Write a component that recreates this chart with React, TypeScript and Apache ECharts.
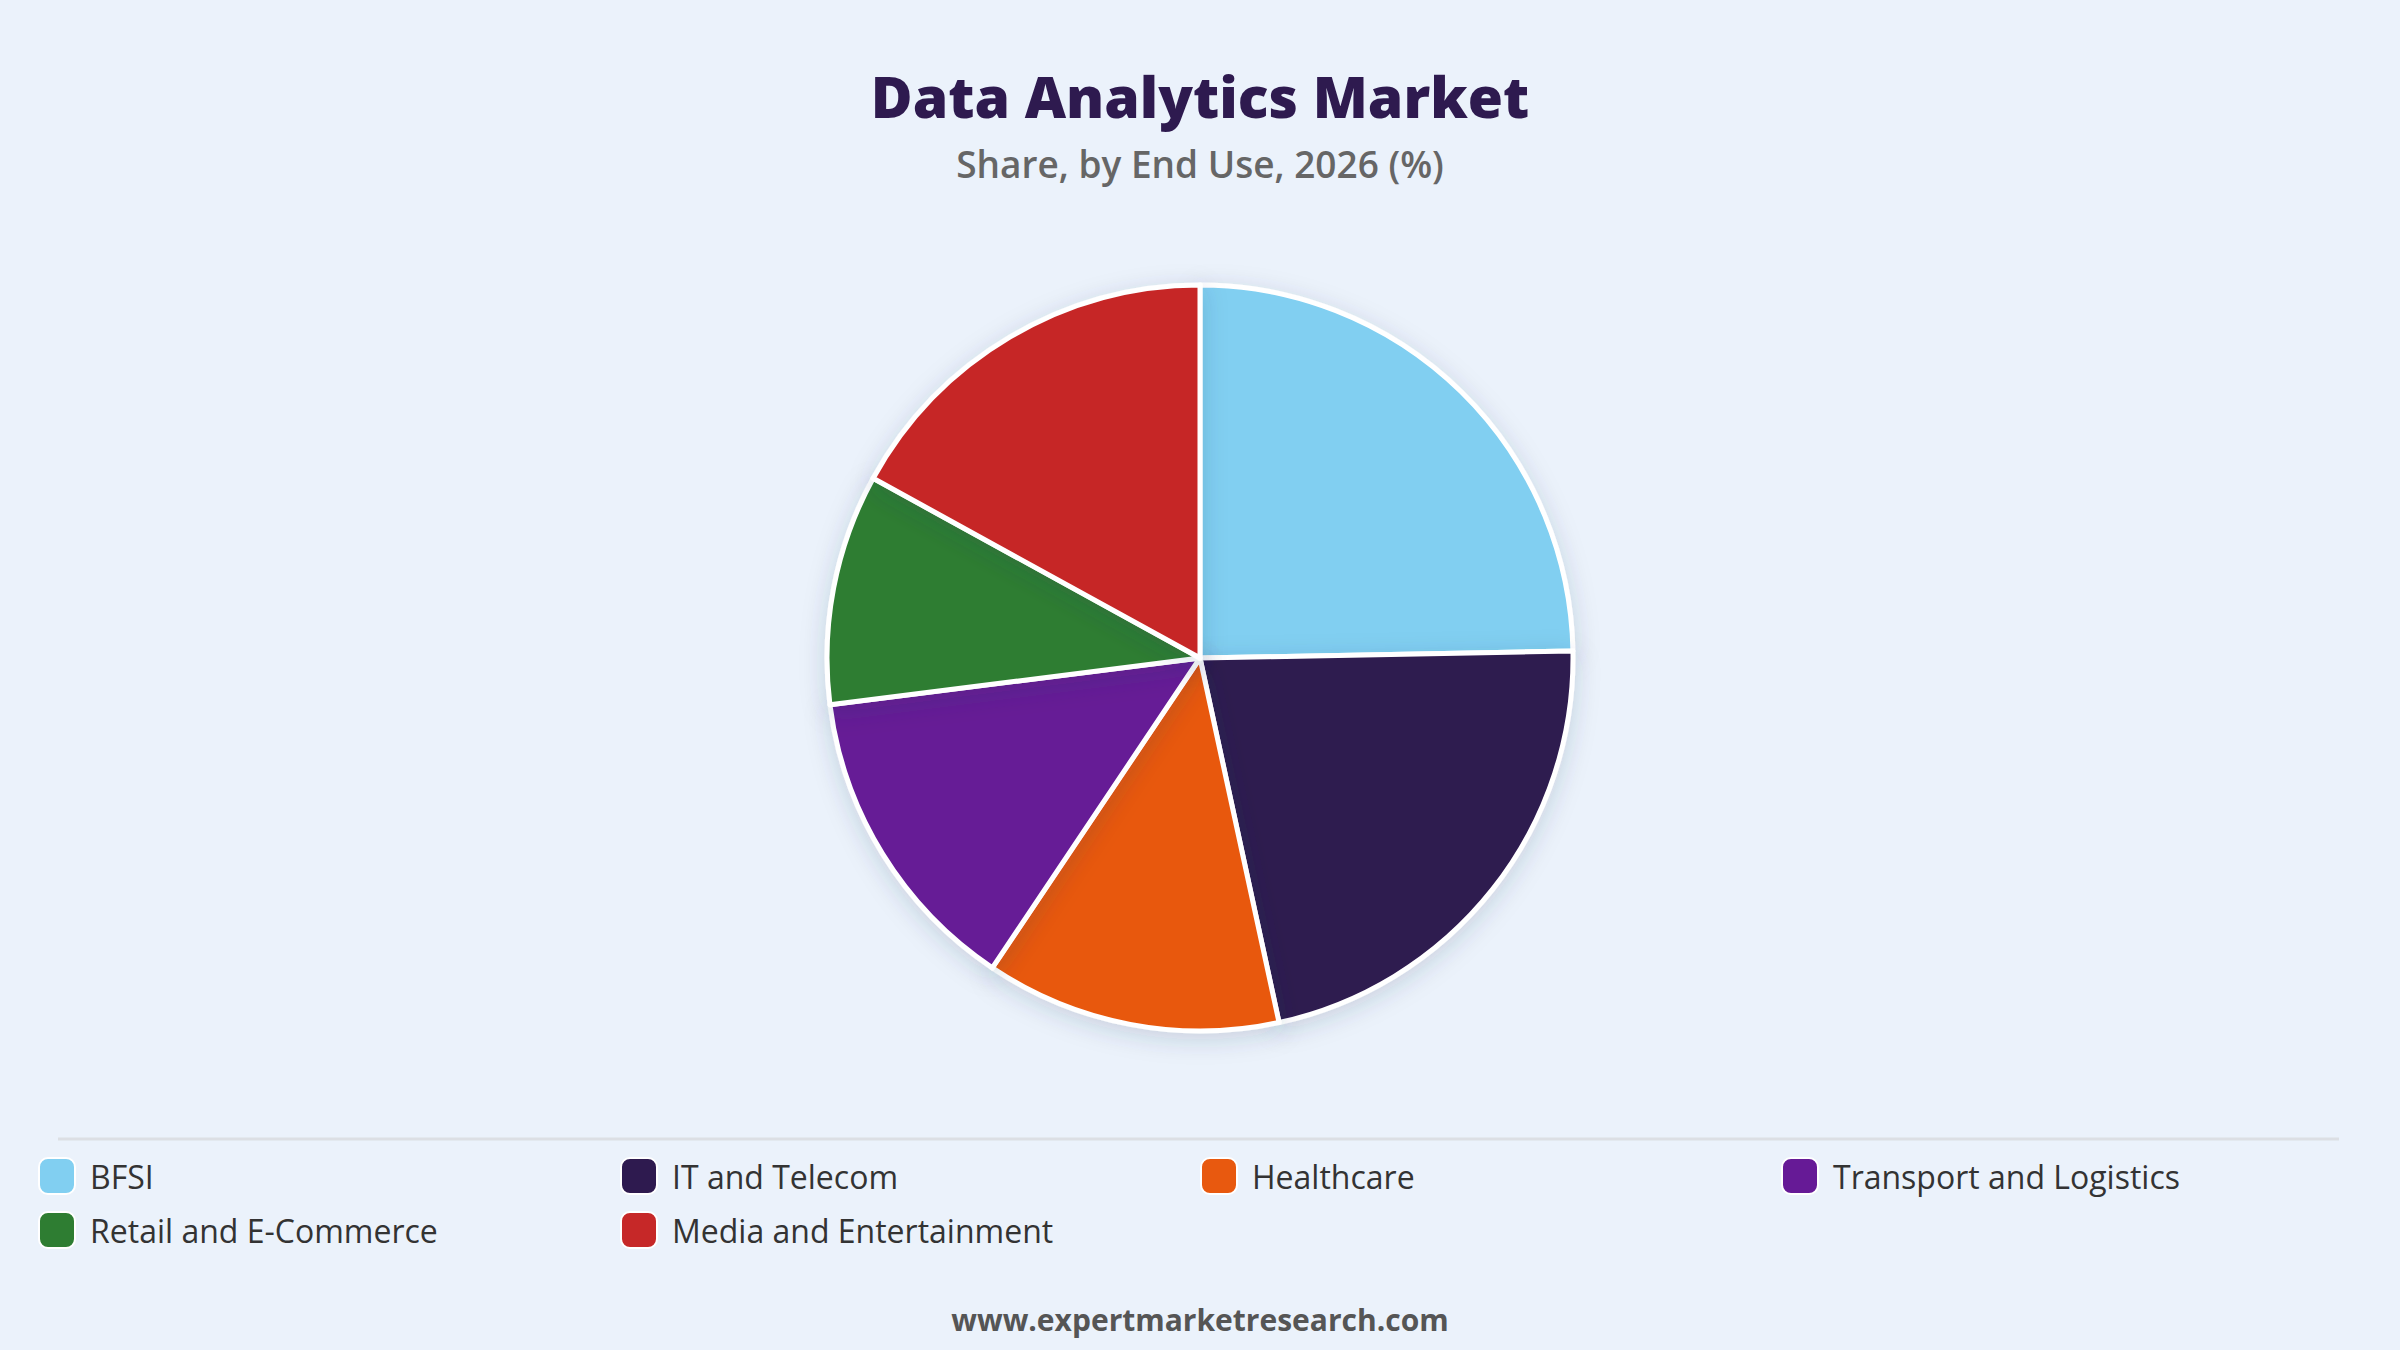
import React, { useEffect, useRef } from "react";
import * as echarts from "echarts";

const categories = [
  "BFSI",
  "IT and Telecom",
  "Healthcare",
  "Transport and Logistics",
  "Retail and E-Commerce",
  "Media and Entertainment",
];
const shares = [24.7, 21.9, 12.8, 13.6, 10.0, 17.0];
const colors = ["#81CFF1", "#2E1A4F", "#E8590F", "#661A96", "#2E7D32", "#C62828"];

const TITLE = "Data Analytics Market";
const SUBTITLE = "Share, by End Use, 2026 (%)";
const FOOTER = "www.expertmarketresearch.com";

const legendLeft = [38, 620, 1200, 1781];
const legendTop = [1157, 1211];

export default function App() {
  const ref = useRef<HTMLDivElement>(null);
  useEffect(() => {
    document.body.style.margin = "0";
    const chart = echarts.init(ref.current!, null, { renderer: "svg" });
    const legends = categories.map((name, i) => ({
      data: [name],
      left: legendLeft[i % 4],
      top: legendTop[Math.floor(i / 4)],
      icon: "roundRect",
      itemWidth: 36,
      itemHeight: 36,
      itemGap: 0,
      padding: 0,
      selectedMode: false,
      textStyle: {
        fontFamily: "Open Sans",
        fontSize: 32,
        color: "#333333",
        padding: [0, 0, 0, 10],
      },
    }));
    chart.setOption({
      animation: false,
      backgroundColor: "#EBF2FB",
      color: colors,
      title: [
        {
          text: TITLE,
          left: "center",
          top: 62,
          textStyle: {
            fontFamily: "Open Sans",
            fontWeight: 800,
            fontSize: 57,
            color: "#2E1A4F",
          },
        },
        {
          text: SUBTITLE,
          left: "center",
          top: 140,
          textStyle: {
            fontFamily: "Open Sans",
            fontWeight: 600,
            fontSize: 37,
            color: "#666666",
          },
        },
        {
          text: FOOTER,
          left: "center",
          top: 1299,
          textStyle: {
            fontFamily: "Open Sans",
            fontWeight: 700,
            fontSize: 30,
            color: "#555555",
          },
        },
      ],
      legend: legends,
      graphic: [
        {
          type: "line",
          shape: { x1: 58, y1: 1139, x2: 2339, y2: 1139 },
          style: { stroke: "#DCDFE4", lineWidth: 3 },
        },
      ],
      series: [
        {
          type: "pie",
          center: [1200, 658],
          radius: [0, 373],
          startAngle: 90,
          clockwise: true,
          label: { show: false },
          labelLine: { show: false },
          emphasis: { disabled: true },
          itemStyle: {
            borderColor: "#FFFFFF",
            borderWidth: 5,
            shadowBlur: 24,
            shadowColor: "rgba(40, 60, 90, 0.18)",
            shadowOffsetY: 6,
          },
          data: categories.map((name, i) => ({ name, value: shares[i] })),
        },
      ],
    });
    return () => chart.dispose();
  }, []);
  return <div ref={ref} style={{ width: 2400, height: 1350 }} />;
}
